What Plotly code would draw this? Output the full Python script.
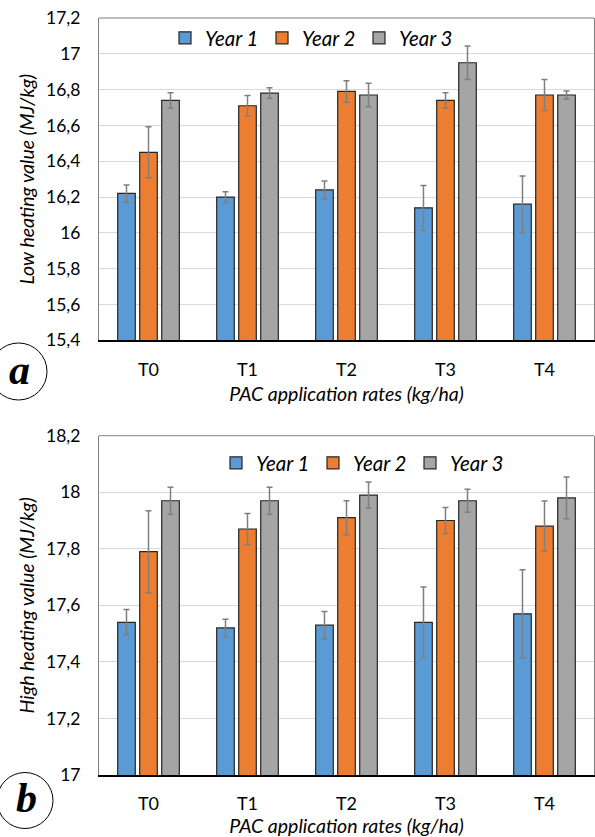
import plotly.graph_objects as go

categories = ["T0", "T1", "T2", "T3", "T4"]
series_names = ["Year 1", "Year 2", "Year 3"]
colors = ["#5B9BD5", "#ED7D31", "#A5A5A5"]

# Panel a: Low heating value (MJ/kg)
lhv_y1 = [16.22, 16.20, 16.24, 16.14, 16.16]
lhv_y2 = [16.45, 16.71, 16.79, 16.74, 16.77]
lhv_y3 = [16.74, 16.78, 16.77, 16.95, 16.77]
lhv_err_y1 = [0.047, 0.030, 0.050, 0.125, 0.158]
lhv_err_y2 = [0.142, 0.057, 0.060, 0.043, 0.087]
lhv_err_y3 = [0.043, 0.030, 0.065, 0.093, 0.022]

# Panel b: High heating value (MJ/kg)
hhv_y1 = [17.54, 17.52, 17.53, 17.54, 17.57]
hhv_y2 = [17.79, 17.87, 17.91, 17.90, 17.88]
hhv_y3 = [17.97, 17.97, 17.99, 17.97, 17.98]
hhv_err_y1 = [0.045, 0.031, 0.048, 0.125, 0.156]
hhv_err_y2 = [0.145, 0.055, 0.060, 0.046, 0.089]
hhv_err_y3 = [0.048, 0.048, 0.046, 0.041, 0.074]

lhv_tickvals = [15.4, 15.6, 15.8, 16.0, 16.2, 16.4, 16.6, 16.8, 17.0, 17.2]
lhv_ticktext = ["15,4", "15,6", "15,8", "16", "16,2", "16,4", "16,6", "16,8", "17", "17,2"]
hhv_tickvals = [17.0, 17.2, 17.4, 17.6, 17.8, 18.0, 18.2]
hhv_ticktext = ["17", "17,2", "17,4", "17,6", "17,8", "18", "18,2"]

FONT = "Lato"
W, H = 595, 837
ML, MR, MT, MB = 99, 1, 18, 62
PH = H - MT - MB

def py(pix):
    return (H - MB - pix) / PH

def px(pix):
    return (pix - ML) / (W - ML - MR)

fig = go.Figure()

panels = [
    ("x", "y", "legend", [lhv_y1, lhv_y2, lhv_y3], [lhv_err_y1, lhv_err_y2, lhv_err_y3]),
    ("x2", "y2", "legend2", [hhv_y1, hhv_y2, hhv_y3], [hhv_err_y1, hhv_err_y2, hhv_err_y3]),
]
for xa, ya, lg, vals, errs in panels:
    for name, col, v, e in zip(series_names, colors, vals, errs):
        fig.add_trace(go.Bar(
            x=categories, y=v, name="<i>" + name + "</i>", xaxis=xa, yaxis=ya, legend=lg,
            marker=dict(color=col, line=dict(color="#262626", width=1.2)),
            error_y=dict(type="data", array=e, visible=True, color="#7f7f7f",
                         thickness=1.5, width=3),
        ))

top_dom = [py(340.3), 1.0]
bot_dom = [0.0, py(435.7)]

XTICKF = dict(family=FONT, size=18, color="#000")
YTICKF = dict(family=FONT, size=17.5, color="#000")
TITF = dict(family=FONT, size=19.5, color="#000")

axis_common = dict(showgrid=False, showline=True, linecolor="#000000", linewidth=1.5,
                   ticks="", tickfont=XTICKF, ticklabelstandoff=12, automargin=False)
yaxis_common = dict(showgrid=True, gridcolor="#d9d9d9", gridwidth=1, zeroline=False,
                    showline=True, linecolor="#7f7f7f", linewidth=1, mirror=True,
                    ticks="", tickfont=YTICKF, ticklabelstandoff=14, automargin=False)

fig.update_layout(
    width=W, height=H,
    margin=dict(l=ML, r=MR, t=MT, b=MB),
    paper_bgcolor="white", plot_bgcolor="white",
    barmode="group", bargap=0.333, bargroupgap=0.2,
    font=dict(family=FONT, size=16, color="#000"),
    xaxis=dict(**axis_common, domain=[0, 1], anchor="y",
               title=dict(text="<i>PAC application rates (kg/ha)</i>", standoff=9, font=TITF)),
    yaxis=dict(**yaxis_common, domain=top_dom, anchor="x", range=[15.4, 17.2],
               tickvals=lhv_tickvals, ticktext=lhv_ticktext,
               title=dict(text="<i>Low heating value (MJ/kg)</i>", standoff=6, font=TITF)),
    xaxis2=dict(**axis_common, domain=[0, 1], anchor="y2",
                title=dict(text="<i>PAC application rates (kg/ha)</i>", standoff=9, font=TITF)),
    yaxis2=dict(**yaxis_common, domain=bot_dom, anchor="x2", range=[17.0, 18.2],
                tickvals=hhv_tickvals, ticktext=hhv_ticktext,
                title=dict(text="<i>High heating value (MJ/kg)</i>", standoff=6, font=TITF)),
    legend=dict(orientation="h", x=px(165), y=py(38), xanchor="left", yanchor="middle",
                bgcolor="rgba(0,0,0,0)", font=dict(family=FONT, size=20.5),
                entrywidth=52, entrywidthmode="pixels", traceorder="normal"),
    legend2=dict(orientation="h", x=px(216), y=py(463), xanchor="left", yanchor="middle",
                 bgcolor="rgba(0,0,0,0)", font=dict(family=FONT, size=20.5),
                 entrywidth=52, entrywidthmode="pixels", traceorder="normal"),
    showlegend=True,
)

# top border lines of plot areas
for dom in (top_dom, bot_dom):
    fig.add_shape(type="line", xref="paper", yref="paper", x0=0, x1=1, y0=dom[1], y1=dom[1],
                  line=dict(color="#7f7f7f", width=1))

# circled panel letters
for cx, cy, r, letter in [(18.5, 371.5, 28.5, "a"), (25, 800.5, 28, "b")]:
    fig.add_shape(type="circle", xref="paper", yref="paper",
                  xsizemode="pixel", ysizemode="pixel",
                  xanchor=px(cx), yanchor=py(cy),
                  x0=-r, x1=r, y0=-r, y1=r,
                  line=dict(color="#000", width=1))
    fig.add_annotation(xref="paper", yref="paper", x=px(cx + 1), y=py(cy - 2),
                       text="<b><i>" + letter + "</i></b>", showarrow=False,
                       font=dict(family="Liberation Serif", size=42, color="#000"),
                       xanchor="center", yanchor="middle")

fig.write_html("out.html", config={"displayModeBar": False},
               post_script="document.body.style.margin='0';document.body.style.overflow='hidden';")
